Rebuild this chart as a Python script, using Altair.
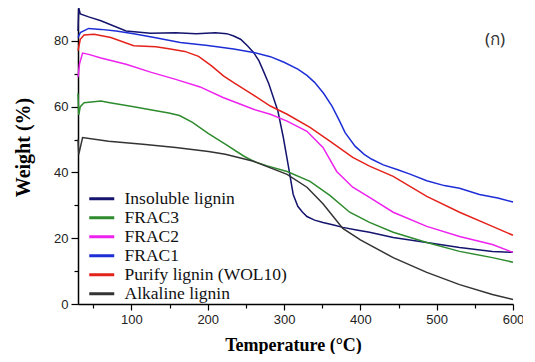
import altair as alt
import pandas as pd

series_order = ["Insoluble lignin", "FRAC3", "FRAC2", "FRAC1",
                "Purify lignin (WOL10)", "Alkaline lignin"]
series_colors = ["#14146e", "#2e8b2e", "#ee22ee", "#1e2ed6", "#e4221c", "#333333"]

insol_x = [30, 31, 33, 44, 60, 93, 125, 158, 185, 210, 225, 234, 243, 252, 260, 267,
           273, 280, 286, 292, 299, 306, 312, 318, 324, 330, 340, 351, 365, 377, 395,
           412, 443, 487, 530, 573, 600]
insol_y = [83, 90, 88.2, 87.3, 86.1, 83.0, 82.3, 82.5, 82.2, 82.5, 82.2, 81.5, 80.5,
           78.5, 76.5, 74, 70.8, 67, 62.8, 58.6, 50.7, 41.5, 33.3, 29.7, 28, 26.6,
           25.5, 24.8, 24, 23.3, 22.5, 21.8, 20.2, 18.7, 17.2, 16, 15.7]

frac1_x = [30, 33, 44, 60, 80, 103, 130, 164, 200, 234, 260, 282, 300, 318, 330, 340,
           352, 363, 372, 380, 393, 405, 415, 430, 449, 465, 487, 510, 530, 556, 580, 600]
frac1_y = [81, 82.5, 83.8, 83.5, 83, 82.2, 81, 79.5, 78.6, 77.5, 76.5, 75.2, 73.5,
           71.4, 69.5, 67.4, 64, 60.1, 56, 52.1, 48, 45.5, 44, 42.3, 40.8, 39.5, 37.5,
           36, 35.2, 33.3, 32.2, 31]

purify_x = [30, 33, 38, 51, 73, 103, 132, 147, 170, 188, 205, 221, 234, 260, 282, 304,
            334, 360, 390, 412, 443, 487, 530, 573, 600]
purify_y = [77, 80.5, 81.8, 82, 81, 78.5, 78.2, 77.7, 76.8, 75.3, 72.4, 69.3, 67.3, 63.5,
            60.2, 57.7, 53.7, 49.5, 44.6, 41.9, 38.8, 32.7, 27.9, 23.6, 20.9]

frac2_x = [30, 32, 36, 44, 60, 93, 125, 158, 190, 220, 260, 282, 304, 330, 351, 369,
           390, 412, 443, 487, 530, 573, 600]
frac2_y = [69, 73, 76.3, 75.9, 74.8, 72.9, 70.5, 68.3, 66, 62.8, 59.2, 57.7, 55.6, 52.5,
           47.6, 40.3, 35.5, 32.4, 27.9, 23.6, 20.5, 18.1, 15.7]

frac3_x = [30, 31, 33, 38, 60, 70, 103, 134, 149, 163, 180, 201, 223, 247, 260, 278,
           304, 334, 360, 386, 412, 443, 487, 530, 573, 600]
frac3_y = [64, 57.5, 60, 61.2, 61.7, 61.3, 60, 58.7, 58.1, 57.3, 55.2, 51.8, 48.6, 45,
           43.4, 42, 40.3, 37.3, 33, 27.9, 24.8, 21.8, 18.7, 16, 14.1, 12.7]

alk_x = [30, 31, 36, 70, 115, 158, 201, 223, 260, 304, 330, 351, 377, 400, 443, 487,
         530, 573, 600]
alk_y = [50, 45.5, 50.6, 49.5, 48.6, 47.6, 46.4, 45.5, 43.4, 39.4, 35.5, 30.5, 23,
         19.5, 14.1, 9.6, 5.9, 2.9, 1.4]

x_ticks = [50, 100, 150, 200, 250, 300, 350, 400, 450, 500, 550, 600]
y_ticks = [0, 10, 20, 30, 40, 50, 60, 70, 80]

rows = []
for name, xs, ys in [
    ("Insoluble lignin", insol_x, insol_y),
    ("FRAC3", frac3_x, frac3_y),
    ("FRAC2", frac2_x, frac2_y),
    ("FRAC1", frac1_x, frac1_y),
    ("Purify lignin (WOL10)", purify_x, purify_y),
    ("Alkaline lignin", alk_x, alk_y),
]:
    for i, (a, b) in enumerate(zip(xs, ys)):
        rows.append({"series": name, "T": a, "W": b, "i": i})
df = pd.DataFrame(rows)

lines = alt.Chart(df).mark_line(strokeWidth=1.5).encode(
    x=alt.X("T:Q", scale=alt.Scale(domain=[30, 600], nice=False, zero=False),
            axis=alt.Axis(values=x_ticks, labelFlush=False,
                          labelExpr="datum.value % 100 === 0 ? datum.label : ''",
                          tickSize={"condition": {"test": "datum.value % 100 === 0", "value": 6}, "value": 4},
                          title="Temperature (°C)", titleX=215, titleY=46,
                          titleBaseline="alphabetic", titleAlign="center")),
    y=alt.Y("W:Q", scale=alt.Scale(domain=[0, 90], nice=False),
            axis=alt.Axis(values=y_ticks, labelFlush=False,
                          labelExpr="datum.value % 20 === 0 ? datum.label : ''",
                          tickSize={"condition": {"test": "datum.value % 20 === 0", "value": 7}, "value": 4},
                          title="Weight (%)", titleX=-49, titleY=139, titleAngle=270,
                          titleBaseline="alphabetic", titleAlign="center")),
    color=alt.Color("series:N", scale=alt.Scale(domain=series_order, range=series_colors),
                    sort=series_order,
                    legend=alt.Legend(title=None, orient="none", legendX=15, legendY=182,
                                      symbolType="M-2.5,0H2.5", symbolSize=100,
                                      symbolStrokeWidth=3, symbolFillColor="transparent",
                                      labelFont="Liberation Serif",
                                      labelFontSize=17.5, labelColor="#111",
                                      labelLimit=400, labelOffset=14, rowPadding=0,
                                      padding=0)),
    detail="series:N",
    order="i:Q",
)

label = alt.Chart(pd.DataFrame({"t": ["(ก)"]})).mark_text(
    font="Noto Sans", fontSize=17, color="#333", align="center", baseline="middle"
).encode(text="t:N", x=alt.value(417), y=alt.value(32))

chart = alt.layer(lines, label).properties(
    width=435, height=296,
    autosize=alt.AutoSizeParams(type="none"),
    padding={"left": 70, "top": 0, "right": 10, "bottom": 50},
).configure_view(stroke=None).configure_axis(
    grid=False, domainColor="#000", domainWidth=1.5, tickColor="#000", tickWidth=1.2,
    labelFont="Liberation Sans", labelFontSize=13, labelColor="#222",
    titleFont="Liberation Serif", titleFontWeight="bold", titleColor="#000",
    labelPadding=3,
).configure_axisX(titleFontSize=18).configure_axisY(titleFontSize=20)

chart.save("out.html", embed_options={"renderer": "svg", "actions": False})
